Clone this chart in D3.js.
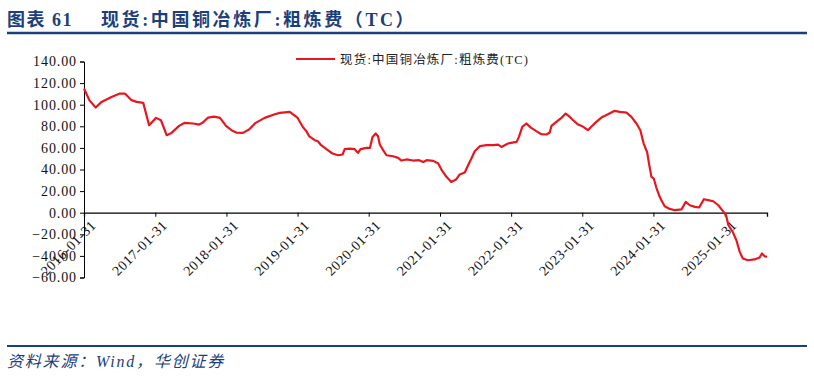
<!DOCTYPE html>
<html>
<head>
<meta charset="utf-8">
<script src="https://cdn.jsdelivr.net/npm/d3@7"></script>
<style>
  body { margin: 0; background: #fff; }
  svg { display: block; }
</style>
</head>
<body>
<div id="chart"></div>
<script>
// Spot copper smelter TC
const dates = [
  '2016-01-31','2016-02-28','2016-03-31','2016-04-30','2016-06-20','2016-08-02','2016-08-28','2016-10-01','2016-10-27','2016-11-30','2016-12-30',
  '2017-02-04','2017-03-01','2017-03-30','2017-04-24','2017-06-02','2017-07-01','2017-08-13','2017-09-13','2017-09-30','2017-10-29','2017-11-28','2017-12-29',
  '2018-01-29','2018-02-28','2018-03-23','2018-04-26','2018-05-27','2018-06-30','2018-08-15','2018-10-06','2018-11-01','2018-12-22',
  '2019-01-30','2019-02-27','2019-03-17','2019-03-31','2019-04-29','2019-05-15','2019-06-01','2019-06-28','2019-07-29','2019-08-27','2019-09-19','2019-09-30','2019-10-25','2019-11-20','2019-12-07','2019-12-20',
  '2020-01-20','2020-02-06','2020-02-20','2020-03-07','2020-03-19','2020-03-28','2020-04-14','2020-05-01','2020-06-04','2020-06-30','2020-07-17','2020-08-12','2020-09-15','2020-10-16','2020-11-06','2020-11-23','2020-12-27',
  '2021-01-22','2021-02-09','2021-03-05','2021-03-30','2021-04-25','2021-05-12','2021-06-07','2021-06-24','2021-07-11','2021-07-28','2021-08-23','2021-09-27','2021-10-31','2021-11-25','2021-12-12',
  '2022-01-15','2022-02-28','2022-03-12','2022-03-29','2022-04-19','2022-05-02','2022-05-14','2022-06-09','2022-07-05','2022-07-31','2022-08-17','2022-08-26','2022-09-20','2022-10-16','2022-11-07','2022-11-28','2022-12-15',
  '2023-01-10','2023-02-05','2023-03-01','2023-03-18','2023-04-13','2023-05-09','2023-06-12','2023-07-16','2023-08-11','2023-09-15','2023-10-10','2023-11-05','2023-11-25','2023-12-12','2023-12-30',
  '2024-01-09','2024-01-21','2024-02-02','2024-02-15','2024-02-29','2024-03-12','2024-03-29','2024-04-24','2024-05-20','2024-06-23','2024-07-15','2024-08-05','2024-08-31','2024-09-22','2024-10-16','2024-11-07','2024-12-03','2024-12-29',
  '2025-01-21','2025-02-07','2025-02-19','2025-03-13','2025-04-01','2025-04-18','2025-05-04','2025-05-30','2025-07-03','2025-07-29','2025-08-10','2025-08-24','2025-09-05'
];

const tcValues = [
  115,104,97.4,102.6,107.2,110.3,110.3,104.2,102.6,101.7,81,
  87.8,85.6,71.8,73.9,80.4,83.2,82.6,81.6,83.2,88.1,89,87.8,
  80.4,76.1,74.2,73.9,77,83.2,87.8,91.2,92.4,93.3,
  88.1,79.4,75.5,71,67.1,66.2,62.5,58.8,54.8,53.2,53.9,58.8,59.4,58.8,55.4,58.8,
  60,60,70.2,73.3,70.8,63.1,57.9,53.2,52.3,50.8,48.3,49.3,48.3,48.6,47,48.6,48,
  45.6,39.4,33.2,28.5,31,35.4,37.2,44,50.2,56.9,61.6,62.5,62.5,63.1,60.9,
  64.1,65.6,70.2,79.5,82.6,80.4,78.5,75.5,72.7,72.4,74.2,80.4,84.1,87.8,91.8,88.7,85.6,
  81.6,79.5,76.4,79.5,84.1,88.1,91.2,94.3,93.3,92.7,88.7,82.6,76.4,64,56,
  45,33.2,31.6,23.3,16.2,11.6,6,3.5,2.3,3,10,6.9,5.4,4.8,12.5,11.6,10.6,6.9,
  1.7,-2.3,-11.6,-17.8,-25.5,-36.3,-42.4,-44,-43.3,-41.5,-37.8,-40.3,-40.9
];

const xTickLabels = ['2016-01-31','2017-01-31','2018-01-31','2019-01-31','2020-01-31',
  '2021-01-31','2022-01-31','2023-01-31','2024-01-31','2025-01-31'];
const yTicks = [-60, -40, -20, 0, 20, 40, 60, 80, 100, 120, 140];
const xDomainEnd = '2025-09-05';

const titleText = '图表 61';
const titleName = '现货:中国铜冶炼厂:粗炼费（TC）';
const seriesName = '现货:中国铜冶炼厂:粗炼费(TC)';
const sourceText = '资料来源：Wind，华创证券';

const navy = '#1c3f7c';
const red = '#e8171f';
const serif = '"Liberation Serif", "Times New Roman", "Noto Sans CJK SC", serif';

function drawChart() {
    const width = 814, height = 378;
    const parse = d3.timeParse('%Y-%m-%d');
    const data = dates.map((d, i) => ({ date: parse(d), value: tcValues[i] }));

    const svg = d3.select('#chart').append('svg')
        .attr('width', width)
        .attr('height', height);

    svg.append('rect').attr('width', width).attr('height', height).attr('fill', '#fff');

    // Header
    svg.append('text')
        .attr('x', 7).attr('y', 26)
        .attr('font-family', serif).attr('font-weight', 'bold')
        .attr('font-size', 18).attr('letter-spacing', 1.5).attr('fill', navy)
        .text(titleText);
    svg.append('text')
        .attr('x', 101).attr('y', 26)
        .attr('font-family', serif).attr('font-weight', 'bold')
        .attr('font-size', 18).attr('letter-spacing', 2.6).attr('fill', navy)
        .text(titleName);
    svg.append('line')
        .attr('x1', 7).attr('x2', 807).attr('y1', 33).attr('y2', 33)
        .attr('stroke', navy).attr('stroke-width', 2.5);

    // Footer
    svg.append('line')
        .attr('x1', 7).attr('x2', 807).attr('y1', 346).attr('y2', 346)
        .attr('stroke', navy).attr('stroke-width', 2);
    svg.append('text')
        .attr('x', 7).attr('y', 367)
        .attr('font-family', serif).attr('font-style', 'italic')
        .attr('font-size', 16).attr('letter-spacing', 1.8).attr('fill', navy)
        .text(sourceText);

    // Scales
    const x = d3.scaleTime()
        .domain([parse(xTickLabels[0]), parse(xDomainEnd)])
        .range([84, 767]);
    const y = d3.scaleLinear()
        .domain([-60, 140])
        .range([277.5, 61.5]);

    // Y axis
    const yAxis = svg.append('g')
        .attr('transform', 'translate(84,0)')
        .call(d3.axisLeft(y).tickValues(yTicks).tickFormat(d3.format('.2f')).tickSize(4).tickPadding(3));
    yAxis.select('.domain').attr('stroke', '#000');
    yAxis.selectAll('text')
        .attr('font-family', serif).attr('font-size', 14)
        .attr('letter-spacing', 0.9).attr('fill', '#111');

    // X axis on the zero line
    const xAxis = svg.append('g')
        .attr('transform', `translate(0,${y(0)})`)
        .call(d3.axisBottom(x).tickValues(xTickLabels.map(parse)).tickSize(4).tickFormat(d3.timeFormat('%Y-%m-%d')));
    xAxis.select('.domain').attr('stroke', '#000').attr('stroke-width', 1.3);
    xAxis.selectAll('text')
        .attr('font-family', serif).attr('font-size', 14)
        .attr('letter-spacing', 0.6).attr('fill', '#111')
        .attr('text-anchor', 'end')
        .attr('dy', '0.35em')
        .attr('transform', 'translate(4,5) rotate(-45)');

    // Series line
    const line = d3.line()
        .x(d => x(d.date))
        .y(d => y(d.value));
    svg.append('path')
        .datum(data)
        .attr('fill', 'none')
        .attr('stroke', red)
        .attr('stroke-width', 2.2)
        .attr('stroke-linejoin', 'round')
        .attr('d', line);

    // Legend
    const legend = svg.append('g').attr('transform', 'translate(296,59)');
    legend.append('line')
        .attr('x1', 0).attr('x2', 39)
        .attr('stroke', red).attr('stroke-width', 2);
    legend.append('text')
        .attr('x', 44).attr('y', 4.5)
        .attr('font-family', serif).attr('font-size', 12.5)
        .attr('letter-spacing', 1.2).attr('fill', '#222')
        .text(seriesName);
}

document.addEventListener('DOMContentLoaded', drawChart);
</script>
</body>
</html>
